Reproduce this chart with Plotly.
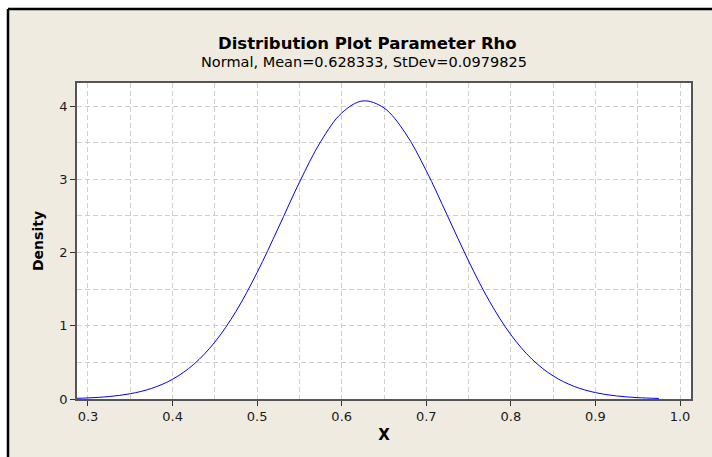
import plotly.graph_objects as go

# Values
x_vals = [0.285, 0.300, 0.325, 0.350, 0.375, 0.400, 0.425, 0.450, 0.475, 0.500,
          0.525, 0.550, 0.575, 0.600, 0.625, 0.650, 0.675, 0.700, 0.725, 0.750,
          0.775, 0.800, 0.825, 0.850, 0.875, 0.900, 0.925, 0.950, 0.975]
density = [0.0088, 0.0149, 0.0338, 0.0720, 0.1439, 0.2695, 0.4728, 0.7772, 1.1967, 1.7269,
           2.3350, 2.9582, 3.5109, 3.9049, 4.0692, 3.9733, 3.6350, 3.1161, 2.5028, 1.8835,
           1.3280, 0.8774, 0.5432, 0.3151, 0.1713, 0.0872, 0.0416, 0.0186, 0.0078]

title_text = "Distribution Plot Parameter Rho"
subtitle_text = "Normal, Mean=0.628333, StDev=0.0979825"
x_ticks = [0.3, 0.4, 0.5, 0.6, 0.7, 0.8, 0.9, 1.0]
x_tick_labels = ["0.3", "0.4", "0.5", "0.6", "0.7", "0.8", "0.9", "1.0"]
y_ticks = [0, 1, 2, 3, 4]

W, H = 712, 457
L, R, T, B = 77, 21, 83, 58
pw, ph = W - L - R, H - T - B

def px(x):
    return (x - L) / pw

def py(y):
    return (H - B - y) / ph

FONT = "DejaVu Sans"
BEIGE = "#EFEBE1"
GRID = "#CFCFCF"
DASH = "5px,3px"

fig = go.Figure()
fig.add_trace(go.Scatter(x=x_vals, y=density, mode="lines",
                         line=dict(color="#0000FF", width=1, shape="spline"),
                         hoverinfo="skip", showlegend=False))

grid = dict(gridcolor=GRID, griddash=DASH, gridwidth=1)

fig.update_layout(
    width=W, height=H,
    margin=dict(l=L, r=R, t=T, b=B),
    paper_bgcolor="white",
    plot_bgcolor="white",
    font=dict(family=FONT, size=13, color="#1a1a1a"),
    xaxis=dict(range=[0.287, 1.013], tickvals=x_ticks, ticktext=x_tick_labels,
               ticks="outside", ticklen=5, tickcolor="#333333",
               showline=True, linecolor="#555555", linewidth=1.5, mirror=True,
               zeroline=False, **grid,
               minor=dict(dtick=0.05, tick0=0.3, showgrid=True, gridcolor=GRID, griddash=DASH),
               title=dict(text="<b>X</b>", font=dict(size=15, family=FONT, color="black"), standoff=6)),
    yaxis=dict(range=[0, 4.314], tickvals=y_ticks,
               ticks="outside", ticklen=5, tickcolor="#333333",
               showline=True, linecolor="#555555", linewidth=1.5, mirror=True,
               zeroline=False, **grid,
               minor=dict(dtick=0.5, tick0=0, showgrid=True, gridcolor=GRID, griddash=DASH),
               title=dict(text="<b>Density</b>", font=dict(size=14, family=FONT, color="black"), standoff=12)),
    shapes=[
        dict(type="rect", xref="paper", yref="paper", x0=px(8), x1=px(W + 5), y0=py(H + 5), y1=py(9),
             fillcolor=BEIGE, line=dict(width=0), layer="below"),
        dict(type="rect", xref="paper", yref="paper", x0=0, x1=1, y0=0, y1=1,
             fillcolor="white", line=dict(width=0), layer="below"),
        dict(type="line", xref="paper", yref="paper", x0=px(8), x1=px(W + 5), y0=py(9), y1=py(9),
             line=dict(color="black", width=2.5)),
        dict(type="line", xref="paper", yref="paper", x0=px(8), x1=px(8), y0=py(9), y1=py(H + 5),
             line=dict(color="black", width=2.5)),
    ],
    annotations=[
        dict(text="<b>" + title_text + "</b>", xref="paper", yref="paper", x=px(367), y=py(43),
             showarrow=False, font=dict(size=16.5, family=FONT, color="black"),
             xanchor="center", yanchor="middle"),
        dict(text=subtitle_text, xref="paper", yref="paper", x=px(364), y=py(62),
             showarrow=False, font=dict(size=14.5, family=FONT, color="black"),
             xanchor="center", yanchor="middle"),
    ],
)

fig.write_html("out.html", config={"displayModeBar": False},
               post_script="document.body.style.margin='0';document.body.style.padding='0';")
